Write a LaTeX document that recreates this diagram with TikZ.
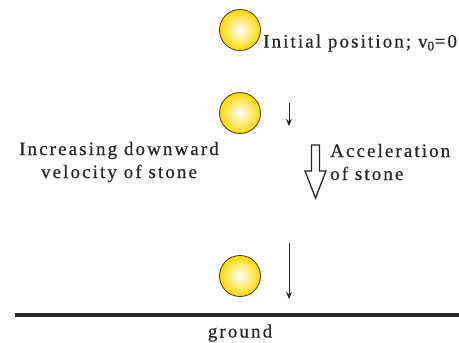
\documentclass[tikz,border=0pt]{standalone}
\usepackage{fontspec}
\setmainfont[LetterSpace=11,FakeBold=0.6]{Liberation Serif}
\usetikzlibrary{arrows.meta}
\begin{document}
\begin{tikzpicture}[x=1pt,y=-1pt,
  stone/.style={circle,minimum size=41pt,inner sep=0pt,draw=black!60!brown,line width=0.8pt,inner color=white,outer color=yellow!70!orange},
  lbl/.style={font=\fontsize{19}{23}\selectfont,text=black!85,inner sep=0pt},
  vel/.style={draw=black!85,line width=1pt,-{Stealth[length=7pt,width=6pt]}}]
\useasboundingbox (0,0) rectangle (459,343);
\node[stone] (s1) at (240,30) {};
\node[stone] (s2) at (240,113) {};
\node[stone] (s3) at (240,276) {};
\node[lbl,anchor=west] (init) at (263,43) {Initial position; v\textsubscript{0}=0};
\coordinate (v2a) at (289,103); \coordinate (v2b) at (289,126);
\draw[vel] (v2a) -- (v2b);
\coordinate (v3a) at (289,243); \coordinate (v3b) at (289,299);
\draw[vel] (v3a) -- (v3b);
\node[lbl,align=center] (incr) at (119,162) {Increasing downward\\velocity of stone};
\node[lbl,align=left,anchor=west] (acc) at (330,162) {Acceleration\\of stone};
\draw[line width=1.3pt,draw=black!85,fill=white] (311.5,145) -- (319.5,145) -- (319.5,171) -- (326,171) -- (315.5,198) -- (305,171) -- (311.5,171) -- cycle;
\coordinate (g1) at (15,315); \coordinate (g2) at (459,315);
\draw[line width=4pt,draw=black!85] (g1) -- (g2);
\node[lbl] (ground) at (240,333) {ground};
\end{tikzpicture}
\end{document}
